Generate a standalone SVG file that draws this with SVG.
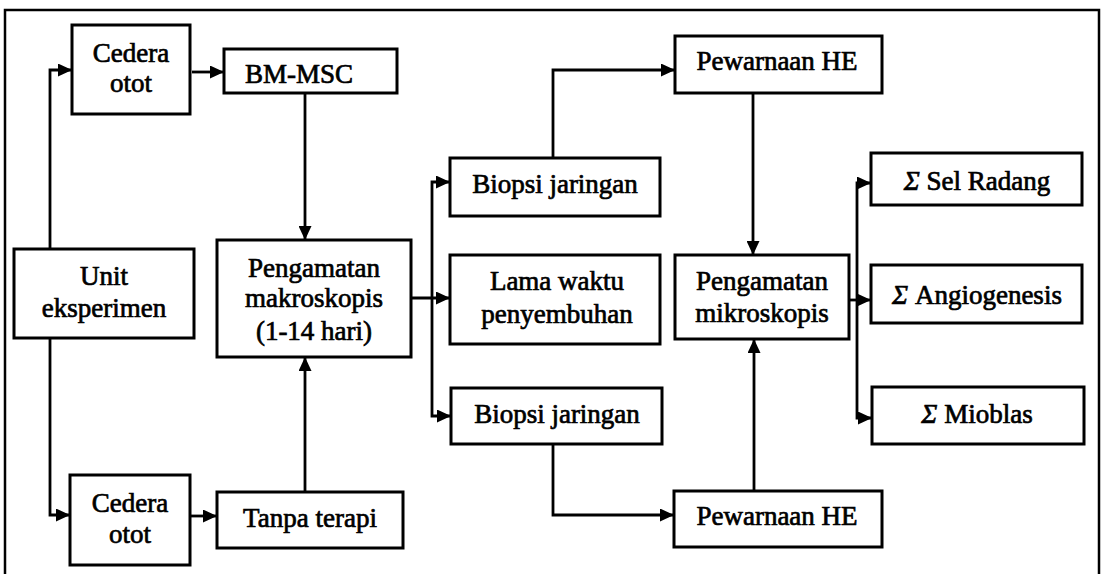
<svg xmlns="http://www.w3.org/2000/svg" width="1101" height="574" viewBox="0 0 1101 574">
<defs>
<marker id="arr" markerUnits="userSpaceOnUse" markerWidth="14" markerHeight="13" refX="14" refY="6.5" orient="auto">
<path d="M0,0 L14,6.5 L0,13 z" fill="#000"/>
</marker>
<style>
.box{fill:#fff;stroke:#000;stroke-width:3}
.t{font-family:"Liberation Serif","Times New Roman",serif;font-size:27px;fill:#000;text-anchor:middle;stroke:#000;stroke-width:0.7}
.c{fill:none;stroke:#000;stroke-width:2.8}
.a{marker-end:url(#arr)}
</style>
</defs>
<rect width="1101" height="574" fill="#fff"/>
<path d="M5,574 V10 H1099 V574" fill="none" stroke="#000" stroke-width="2.5"/>
<g id="connectors">
<path class="c a" d="M50,249 V70 H72"/>
<path class="c a" d="M192,72 H224"/>
<path class="c a" d="M305,93 V240"/>
<path class="c a" d="M50,338 V515 H70"/>
<path class="c a" d="M190,516 H217"/>
<path class="c a" d="M305,492 V357"/>
<path class="c a" d="M411,298 H450"/>
<path class="c a" d="M432,298 V182 H450"/>
<path class="c a" d="M432,298 V416 H451"/>
<path class="c a" d="M553,158 V70 H675"/>
<path class="c a" d="M753,93 V255"/>
<path class="c a" d="M553,444 V515 H674"/>
<path class="c a" d="M754,491 V339"/>
<path class="c a" d="M848,300 H871"/>
<path class="c a" d="M857,300 V183 H871"/>
<path class="c a" d="M857,300 V418 H872"/>
</g>
<g id="cedera1"><rect class="box" x="72" y="25" width="118" height="89"/><text class="t" x="131" y="62">Cedera</text><text class="t" x="131" y="92">otot</text></g>
<g id="bmmsc"><rect class="box" x="224" y="49" width="173" height="44"/><text class="t" x="299" y="83">BM-MSC</text></g>
<g id="unit"><rect class="box" x="14" y="249" width="180" height="89"/><text class="t" x="104" y="285">Unit</text><text class="t" x="104" y="317">eksperimen</text></g>
<g id="makro"><rect class="box" x="217" y="240" width="194" height="117"/><text class="t" x="314" y="277">Pengamatan</text><text class="t" x="314" y="307">makroskopis</text><text class="t" x="314" y="340">(1-14 hari)</text></g>
<g id="cedera2"><rect class="box" x="70" y="475" width="120" height="90"/><text class="t" x="130" y="512">Cedera</text><text class="t" x="130" y="543">otot</text></g>
<g id="tanpa"><rect class="box" x="217" y="492" width="186" height="56"/><text class="t" x="310" y="527">Tanpa terapi</text></g>
<g id="biopsi1"><rect class="box" x="450" y="158" width="210" height="58"/><text class="t" x="555" y="193">Biopsi jaringan</text></g>
<g id="lama"><rect class="box" x="450" y="255" width="210" height="89"/><text class="t" x="557" y="290">Lama waktu</text><text class="t" x="557" y="323">penyembuhan</text></g>
<g id="biopsi2"><rect class="box" x="451" y="388" width="211" height="56"/><text class="t" x="557" y="423">Biopsi jaringan</text></g>
<g id="he1"><rect class="box" x="675" y="36" width="207" height="57"/><text class="t" x="777" y="70">Pewarnaan HE</text></g>
<g id="mikro"><rect class="box" x="675" y="255" width="174" height="84"/><text class="t" x="762" y="290">Pengamatan</text><text class="t" x="762" y="322">mikroskopis</text></g>
<g id="he2"><rect class="box" x="674" y="491" width="208" height="56"/><text class="t" x="777" y="525">Pewarnaan HE</text></g>
<g id="radang"><rect class="box" x="871" y="153" width="211" height="52"/><text class="t" x="977" y="190"><tspan font-style="italic">Σ</tspan> Sel Radang</text></g>
<g id="angio"><rect class="box" x="871" y="265" width="211" height="58"/><text class="t" x="977" y="304"><tspan font-style="italic">Σ</tspan> Angiogenesis</text></g>
<g id="mioblas"><rect class="box" x="872" y="387" width="212" height="57"/><text class="t" x="977" y="423"><tspan font-style="italic">Σ</tspan> Mioblas</text></g>
</svg>
